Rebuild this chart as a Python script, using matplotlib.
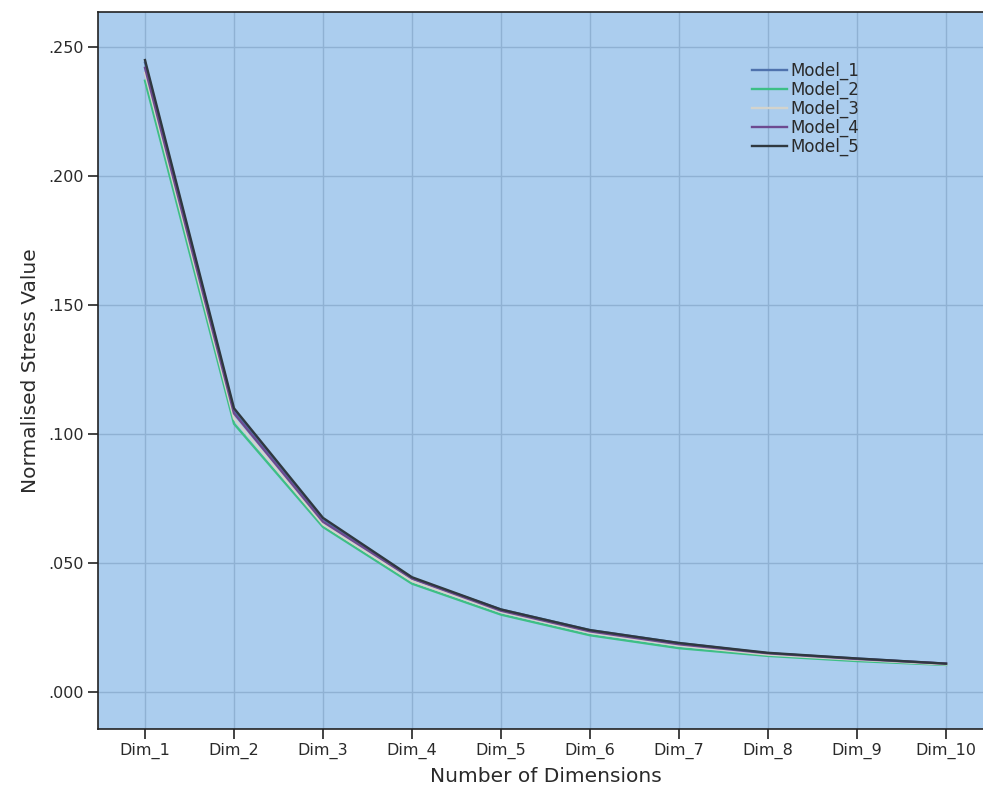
import matplotlib.pyplot as plt
from matplotlib.ticker import FuncFormatter

dims = ["Dim_1", "Dim_2", "Dim_3", "Dim_4", "Dim_5",
        "Dim_6", "Dim_7", "Dim_8", "Dim_9", "Dim_10"]
model_1 = [0.244, 0.109, 0.067, 0.044, 0.032, 0.024, 0.019, 0.015, 0.013, 0.011]
model_2 = [0.237, 0.104, 0.064, 0.042, 0.030, 0.022, 0.017, 0.014, 0.012, 0.0105]
model_3 = [0.240, 0.106, 0.065, 0.043, 0.031, 0.023, 0.018, 0.0145, 0.0125, 0.0107]
model_4 = [0.242, 0.108, 0.066, 0.044, 0.0315, 0.0235, 0.0185, 0.015, 0.0128, 0.011]
model_5 = [0.245, 0.110, 0.0675, 0.0445, 0.032, 0.024, 0.019, 0.0152, 0.013, 0.011]

series = [("Model_1", model_1, "#4f72ad"),
          ("Model_2", model_2, "#3dbf86"),
          ("Model_3", model_3, "#d3d3cc"),
          ("Model_4", model_4, "#6d4a90"),
          ("Model_5", model_5, "#2f383f")]

txt = "#2a2a2a"

fig = plt.figure(figsize=(9.83, 8.05), dpi=100)
ax = fig.add_axes([0.0997, 0.0944, 0.9105, 0.8906])
ax.set_facecolor("#abcdee")

x = list(range(len(dims)))
for name, vals, col in series:
    ax.plot(x, vals, color=col, lw=1.7, label=name)

ax.set_xlim(-0.528, len(dims) - 1 + 0.528)
ax.set_ylim(-0.01434, 0.2636)
ax.set_xticks(x)
ax.set_xticklabels(dims)
ax.set_yticks([0, 0.05, 0.10, 0.15, 0.20, 0.25])
ax.yaxis.set_major_formatter(FuncFormatter(lambda v, p: f"{v:.3f}"[1:] if v >= 0 else f"{v:.3f}"))

ax.grid(True, color="#8fb1d3", lw=1.0)
ax.set_axisbelow(True)
for s in ["left", "bottom", "top"]:
    ax.spines[s].set_color("#222222")
    ax.spines[s].set_linewidth(1.2)
ax.spines["right"].set_visible(False)
ax.tick_params(axis="both", direction="out", length=7, width=1.2, color="#222222",
               labelsize=11.5, labelcolor=txt, pad=3)

ax.set_xlabel("Number of Dimensions", fontsize=14.5, color=txt, labelpad=6)
ax.set_ylabel("Normalised Stress Value", fontsize=14.5, color=txt, labelpad=6)

leg = ax.legend(loc="upper left", bbox_to_anchor=(0.7307, 0.931), frameon=False,
                fontsize=12, handlelength=2.1, handletextpad=0.2, labelspacing=0.05,
                borderaxespad=0, borderpad=0)
for t in leg.get_texts():
    t.set_color(txt)

fig.savefig("out.png", dpi=100)
